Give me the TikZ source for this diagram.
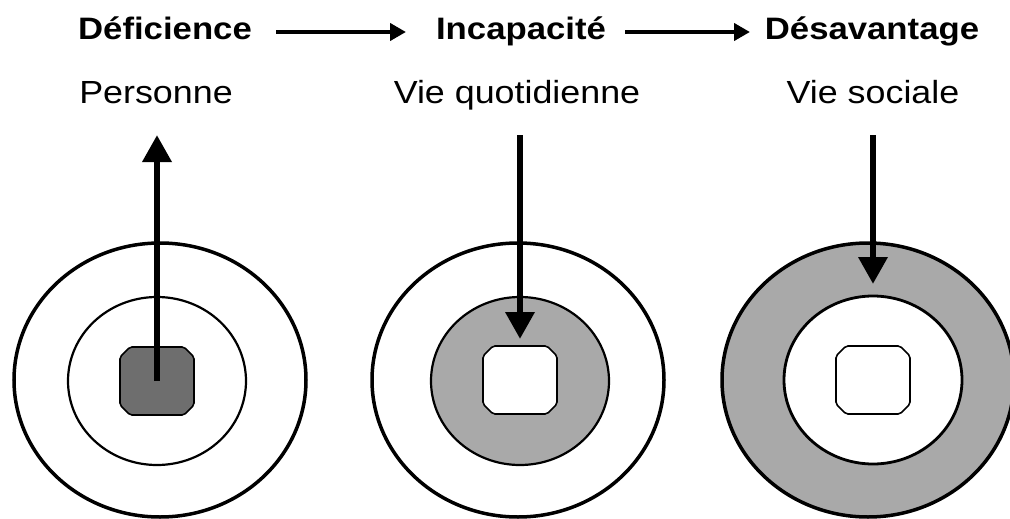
\documentclass[tikz,border=0pt]{standalone}
\usepackage{fontspec}
\setmainfont{Liberation Sans}[FakeStretch=1.12]
\usetikzlibrary{arrows.meta,shapes.geometric,calc}
\definecolor{darkfill}{HTML}{6E6E6E}
\definecolor{ringfill}{HTML}{A9A9A9}
\tikzset{
  head/.style={font=\fontsize{31}{36}\selectfont\bfseries, inner sep=0pt, anchor=base},
  sub/.style={font=\fontsize{32}{36}\selectfont, inner sep=0pt, anchor=base},
  outerell/.style={ellipse, draw, line width=3.5pt, minimum width=292pt, minimum height=274pt, inner sep=0pt, outer sep=0pt},
  innerell/.style={ellipse, draw, minimum width=178pt, minimum height=168pt, inner sep=0pt, outer sep=0pt},
  core/.style={rectangle, draw=none, minimum width=74pt, minimum height=68pt, inner sep=0pt, outer sep=0pt},
  coreline/.style={draw, line width=1.6pt, rounded corners=2pt},
  bigarrow/.style={line width=6.5pt, -{Triangle[length=27pt,width=28pt]}},
  flowarrow/.style={line width=4.5pt, -{Triangle[length=16pt,width=17pt]}},
}
\begin{document}
\begin{tikzpicture}[x=1pt,y=-1pt]
\useasboundingbox (0,0) rectangle (1010,519);
% titles
\node[head] (def) at (165,40) {Déficience};
\node[head] (inc) at (521,40) {Incapacité};
\node[head] (des) at (872,40) {Désavantage};
\node[sub] (per) at (156,103) {Personne};
\node[sub] (vq) at (517,103) {Vie quotidienne};
\node[sub] (vs) at (873,103) {Vie sociale};
\coordinate (a1s) at (276,32);
\coordinate (a1e) at (406,32);
\coordinate (a2s) at (625,32);
\coordinate (a2e) at (750,32);
\draw[flowarrow] (a1s) -- (a1e);
\draw[flowarrow] (a2s) -- (a2e);
% left target
\node[outerell] (o1) at (160,380) {};
\node[innerell, line width=2.2pt] (i1) at (157,381) {};
\node[core] (c1) at (157,381) {};
\draw[coreline, fill=darkfill] ($(c1.north west)+(10,0)$) -- ($(c1.north east)+(-10,0)$) -- ($(c1.north east)+(0,10)$) -- ($(c1.south east)+(0,-10)$) -- ($(c1.south east)+(-10,0)$) -- ($(c1.south west)+(10,0)$) -- ($(c1.south west)+(0,-10)$) -- ($(c1.north west)+(0,10)$) -- cycle;
% middle target
\node[outerell] (o2) at (518,380) {};
\node[innerell, line width=2.2pt, fill=ringfill] (i2) at (520,381) {};
\node[core] (c2) at (520,380) {};
\draw[coreline, fill=white] ($(c2.north west)+(10,0)$) -- ($(c2.north east)+(-10,0)$) -- ($(c2.north east)+(0,10)$) -- ($(c2.south east)+(0,-10)$) -- ($(c2.south east)+(-10,0)$) -- ($(c2.south west)+(10,0)$) -- ($(c2.south west)+(0,-10)$) -- ($(c2.north west)+(0,10)$) -- cycle;
% right target
\node[outerell, fill=ringfill] (o3) at (868,380) {};
\node[innerell, line width=2.8pt, fill=white] (i3) at (873,380) {};
\node[core] (c3) at (873,380) {};
\draw[coreline, fill=white] ($(c3.north west)+(10,0)$) -- ($(c3.north east)+(-10,0)$) -- ($(c3.north east)+(0,10)$) -- ($(c3.south east)+(0,-10)$) -- ($(c3.south east)+(-10,0)$) -- ($(c3.south west)+(10,0)$) -- ($(c3.south west)+(0,-10)$) -- ($(c3.north west)+(0,10)$) -- cycle;
% vertical arrows
\coordinate (t1) at (157,135);
\coordinate (t2) at (520,135);
\coordinate (t3) at (873,135);
\draw[bigarrow] (c1.center) -- (t1);
\draw[bigarrow] (t2) -- ($(c2.north)+(0,-7)$);
\draw[bigarrow] (t3) -- ($(i3.north)+(0,-12)$);
\end{tikzpicture}
\end{document}
